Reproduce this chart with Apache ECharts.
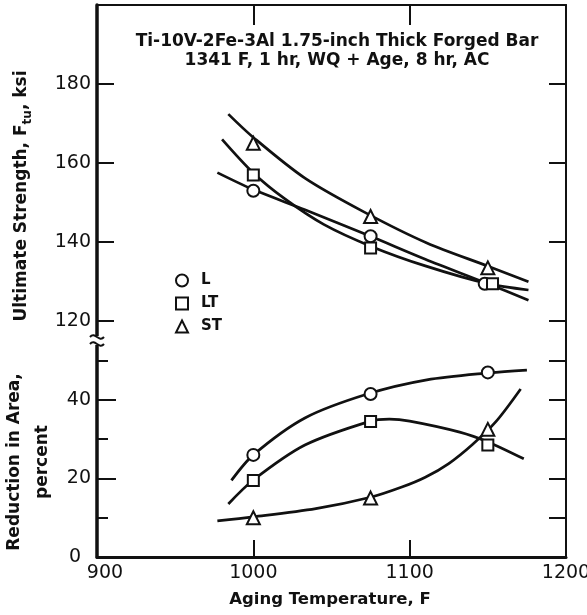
<!DOCTYPE html>
<html>
<head>
<meta charset="utf-8">
<script src="https://cdn.jsdelivr.net/npm/echarts@6/dist/echarts.min.js"></script>
<style>
  html, body { margin: 0; padding: 0; background: #fff; }
  #chart { width: 587px; height: 615px; }
</style>
</head>
<body>
<div id="chart"></div>
<script>
// axis ticks
const tempTicks = [900, 1000, 1100, 1200];
const strengthTicks = [120, 140, 160, 180];
const reductionLabels = [0, 20, 40];
const reductionMajor = [20, 40];
const reductionMinor = [10, 30, 50];
const reductionRight = [10, 20, 30, 40, 50];

// test points (aging temperature, F)
const agingTemps = [1000, 1075, 1150];
const strengthTempsL = [1000, 1075, 1148];
const strengthTempsLT = [1000, 1075, 1153];
const strengthL = [153, 141.5, 129.5];
const strengthLT = [157, 138.5, 129.5];
const strengthST = [165, 146.5, 133.5];
const reductionL = [26, 41.5, 47];
const reductionLT = [19.5, 34.5, 28.5];
const reductionST = [10, 15, 32.5];

// faired curves as [temp, value]
const fitStrengthL = [[977, 157.6], [1000, 153.3], [1033, 148.2], [1075, 141.5], [1110, 135.7], [1150, 129.5], [1176, 125.3]];
const fitStrengthLT = [[980, 166], [1000, 157.5], [1020, 151], [1045, 144.5], [1075, 139], [1110, 134], [1150, 129.5], [1176, 127.9]];
const fitStrengthST = [[984, 172.4], [1000, 166.5], [1033, 156.2], [1071, 147.6], [1111, 139.8], [1151, 133.8], [1176, 130]];
const fitReductionL = [[986, 19.5], [1000, 26], [1033, 35.4], [1073, 41.5], [1111, 45.1], [1151, 46.9], [1175, 47.6]];
const fitReductionLT = [[984, 13.5], [1000, 19.6], [1033, 28.5], [1075, 34.6], [1087, 35.1], [1100, 34.6], [1132, 31.8], [1150, 29.3], [1173, 25]];
const fitReductionST = [[977, 9.2], [1000, 10.2], [1040, 12.3], [1075, 15.2], [1095, 17.8], [1110, 20.3], [1125, 23.8], [1140, 28.6], [1155, 34.4], [1171, 42.8]];

const font = '"DejaVu Sans", "Liberation Sans", sans-serif';
const ink = '#111';

const pairs = (xs, ys) => xs.map((x, i) => [x, ys[i]]);

const markerStyle = { color: '#fff', borderColor: ink, borderWidth: 2, opacity: 1 };
const symbols = { L: ['circle', 12], LT: ['rect', 11], ST: ['triangle', 13] };

function points(name, gridIdx, xs, ys) {
  return {
    name: name,
    type: 'scatter',
    xAxisIndex: gridIdx,
    yAxisIndex: gridIdx === 0 ? 0 : 2,
    symbol: symbols[name][0],
    symbolSize: symbols[name][1],
    itemStyle: markerStyle,
    z: 5,
    data: pairs(xs, ys)
  };
}

function curve(name, gridIdx, data) {
  return {
    name: name,
    type: 'line',
    xAxisIndex: gridIdx,
    yAxisIndex: gridIdx === 0 ? 0 : 2,
    smooth: 0.3,
    showSymbol: false,
    silent: true,
    lineStyle: { color: ink, width: 2.7 },
    z: 3,
    data: data
  };
}

const tickLabel = { color: ink, fontFamily: font, fontSize: 19 };

const chart = echarts.init(document.getElementById('chart'));

chart.setOption({
  animation: false,
  backgroundColor: '#fff',
  grid: [
    { left: 97, width: 469, top: 5, height: 336, outerBoundsMode: 'none' },
    { left: 97, width: 469, top: 341, height: 216, outerBoundsMode: 'none' }
  ],
  xAxis: [
    {
      type: 'value', gridIndex: 0, position: 'top',
      min: 900, max: 1200, interval: 100,
      axisLine: { show: true, lineStyle: { color: ink, width: 2 } },
      axisTick: { show: true, inside: true, length: 20, customValues: [1000, 1100], lineStyle: { color: ink, width: 2 } },
      axisLabel: { show: false },
      splitLine: { show: false }
    },
    {
      type: 'value', gridIndex: 1, position: 'bottom',
      min: 900, max: 1200, interval: 100,
      axisLine: { show: true, lineStyle: { color: ink, width: 3 } },
      axisTick: { show: true, inside: true, length: 17, customValues: [1000, 1100], lineStyle: { color: ink, width: 2 } },
      axisLabel: {
        ...tickLabel, margin: 7, customValues: tempTicks,
        formatter: v => v === 900 ? '{first|900}' : String(v),
        rich: { first: { ...tickLabel, padding: [0, 0, 0, 16] } }
      },
      splitLine: { show: false }
    }
  ],
  yAxis: [
    {
      type: 'value', gridIndex: 0, position: 'left', min: 115, max: 200,
      axisLine: { show: true, lineStyle: { color: ink, width: 3.5 } },
      axisTick: { show: true, inside: true, length: 17, customValues: strengthTicks, lineStyle: { color: ink, width: 2 } },
      axisLabel: { ...tickLabel, margin: 6, customValues: strengthTicks },
      splitLine: { show: false }
    },
    {
      type: 'value', gridIndex: 0, position: 'right', min: 115, max: 200,
      axisLine: { show: true, lineStyle: { color: ink, width: 2 } },
      axisTick: { show: true, inside: true, length: 17, customValues: strengthTicks, lineStyle: { color: ink, width: 2 } },
      axisLabel: { show: false },
      splitLine: { show: false }
    },
    {
      type: 'value', gridIndex: 1, position: 'left', min: 0, max: 55,
      axisLine: { show: true, lineStyle: { color: ink, width: 3.5 } },
      axisTick: { show: true, inside: true, length: 19, customValues: reductionMajor, lineStyle: { color: ink, width: 2 } },
      axisLabel: {
        ...tickLabel, margin: 6, customValues: reductionLabels,
        formatter: v => v === 0 ? '{zero|0}' : String(v),
        rich: { zero: { ...tickLabel, padding: [0, 10, 0, 0] } }
      },
      splitLine: { show: false }
    },
    {
      type: 'value', gridIndex: 1, position: 'left', min: 0, max: 55,
      axisLine: { show: false },
      axisTick: { show: true, inside: true, length: 11, customValues: reductionMinor, lineStyle: { color: ink, width: 2 } },
      axisLabel: { show: false },
      splitLine: { show: false }
    },
    {
      type: 'value', gridIndex: 1, position: 'right', min: 0, max: 55,
      axisLine: { show: true, lineStyle: { color: ink, width: 2 } },
      axisTick: { show: true, inside: true, length: 17, customValues: reductionRight, lineStyle: { color: ink, width: 2 } },
      axisLabel: { show: false },
      splitLine: { show: false }
    }
  ],
  legend: {
    data: ['L', 'LT', 'ST'],
    orient: 'vertical',
    left: 175, top: 273,
    padding: 0,
    itemWidth: 12, itemHeight: 12, itemGap: 8,
    selectedMode: false,
    textStyle: { color: ink, fontFamily: font, fontWeight: 'bold', fontSize: 15, padding: [0, 0, 0, 8] }
  },
  graphic: [
    {
      type: 'text', x: 337, y: 51,
      style: {
        text: 'Ti-10V-2Fe-3Al 1.75-inch Thick Forged Bar\n1341 F, 1 hr, WQ + Age, 8 hr, AC',
        font: 'bold 17px ' + font, fill: ink, align: 'center', verticalAlign: 'middle', lineHeight: 19
      }
    },
    {
      type: 'text', x: 22, y: 196, rotation: Math.PI / 2,
      style: {
        text: '{b|Ultimate Strength, F}{s|tu}{b|, ksi}',
        align: 'center', verticalAlign: 'middle',
        rich: {
          b: { font: 'bold 17px ' + font, fill: ink, lineHeight: 24 },
          s: { font: 'bold 12px ' + font, fill: ink, lineHeight: 24, padding: [11, 0, 0, 0] }
        }
      }
    },
    {
      type: 'text', x: 29, y: 462, rotation: Math.PI / 2,
      style: {
        text: 'Reduction in Area,\npercent',
        font: 'bold 17px ' + font, fill: ink, align: 'center', verticalAlign: 'middle', lineHeight: 28
      }
    },
    {
      type: 'text', x: 330, y: 600,
      style: {
        text: 'Aging Temperature, F',
        font: 'bold 16.5px ' + font, fill: ink, align: 'center', verticalAlign: 'middle'
      }
    },
    // axis break mark
    { type: 'rect', shape: { x: 93, y: 336, width: 9, height: 9 }, style: { fill: '#fff' }, z: 10 },
    {
      type: 'bezierCurve', z: 11,
      shape: { x1: 90, y1: 337, cpx1: 95, cpy1: 331, cpx2: 99, cpy2: 343, x2: 104, y2: 337 },
      style: { stroke: ink, lineWidth: 2, fill: null }
    },
    {
      type: 'bezierCurve', z: 11,
      shape: { x1: 90, y1: 344, cpx1: 95, cpy1: 338, cpx2: 99, cpy2: 350, x2: 104, y2: 344 },
      style: { stroke: ink, lineWidth: 2, fill: null }
    }
  ],
  series: [
    curve('L strength fit', 0, fitStrengthL),
    curve('LT strength fit', 0, fitStrengthLT),
    curve('ST strength fit', 0, fitStrengthST),
    curve('L reduction fit', 1, fitReductionL),
    curve('LT reduction fit', 1, fitReductionLT),
    curve('ST reduction fit', 1, fitReductionST),
    points('L', 0, strengthTempsL, strengthL),
    points('LT', 0, strengthTempsLT, strengthLT),
    points('ST', 0, agingTemps, strengthST),
    points('L', 1, agingTemps, reductionL),
    points('LT', 1, agingTemps, reductionLT),
    points('ST', 1, agingTemps, reductionST)
  ]
});
</script>
</body>
</html>
